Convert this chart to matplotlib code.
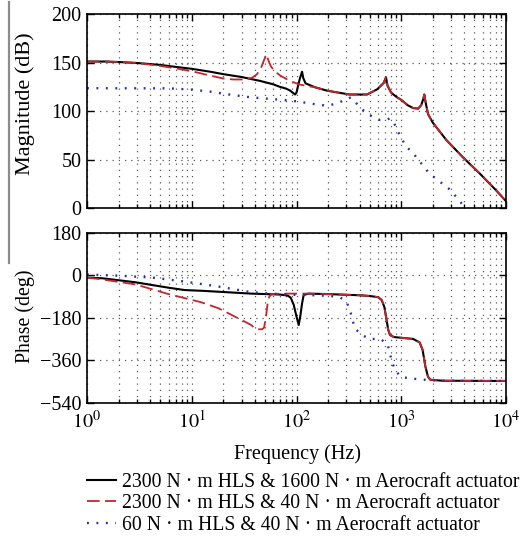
import matplotlib
matplotlib.use("Agg")
import matplotlib.pyplot as plt
from matplotlib.lines import Line2D
from matplotlib.ticker import LogLocator, NullFormatter, FixedLocator

plt.rcParams['font.family'] = ['Liberation Serif', 'DejaVu Serif']
plt.rcParams['mathtext.fontset'] = 'stix'

# ---------------- data ----------------
labels = ["2300 N · m HLS & 1600 N · m Aerocraft actuator",
          "2300 N · m HLS & 40 N · m Aerocraft actuator",
          "60 N · m HLS & 40 N · m Aerocraft actuator"]

# Magnitude, series 1 (black)
mag1_f = [1, 1.5, 2, 3, 5, 7, 10, 15, 20, 30, 45, 60, 69, 80, 87, 93, 97, 100, 104, 108, 113,
          116, 122, 150, 195, 320, 470, 590, 680, 715, 740, 800, 900, 1000, 1150, 1300, 1450,
          1550, 1620, 1660, 1700, 1800, 2000, 2700, 3900, 5600, 8000, 10000]
mag1_db = [151, 151, 150.5, 149.5, 147.5, 145.5, 143.5, 140.5, 138, 135, 131, 127.5, 125, 123, 121, 118.5, 117, 119, 127, 134, 140.5,
           134, 128.5, 124.5, 121, 117, 117, 122.4, 129, 134.7, 126, 119, 114.5, 111.5, 106, 103, 102.5,
           106, 112, 117, 110, 97, 88, 70, 52, 35.7, 18.5, 7]

# Magnitude, series 2 (red dashed)
mag2_f = [1, 1.5, 2, 3, 5, 7, 10, 15, 20, 25, 33, 38, 42, 46, 50, 51.5, 54, 57, 62, 70, 85, 105,
          130, 150, 195, 320, 470, 590, 680, 715, 740, 800, 900, 1000, 1150, 1300, 1450,
          1550, 1620, 1660, 1700, 1800, 2000, 2700, 3900, 5600, 8000, 10000]
mag2_db = [151, 151, 150.5, 149.5, 146.5, 144, 141, 136.5, 133.5, 132.5, 132.5, 134.5, 138, 145, 155, 158.5, 152, 146, 141, 136.5, 131.5, 127.5,
           125.5, 124.5, 121, 117, 117, 122.4, 129, 134.7, 126, 119, 114.5, 111.5, 106, 103, 102.5,
           106, 112, 117, 110, 97, 88, 70, 52, 35.7, 18.5, 7]

# Magnitude, series 3 (blue dotted)
mag3_f = [1, 3, 6, 10, 15, 21, 37, 77, 100, 150, 195, 240, 290, 330, 360, 400, 470, 550, 630,
          720, 780, 850, 930, 1100, 1300, 1850, 2950, 4000, 4400]
mag3_db = [123.5, 123.4, 123.4, 122, 120, 117.5, 114, 111.3, 110, 107, 105.5, 107.5, 111.5, 114, 110, 104, 97.6, 93, 90.7,
           91, 92.4, 88, 78.7, 64, 56.4, 35.7, 18.6, 1.3, -4]

# Phase, series 1 (black)
ph1_f = [1, 1.4, 2.9, 6, 8.6, 12.4, 18, 37, 70, 82, 88, 94, 100, 105, 109, 113, 117, 130, 200, 400,
         500, 600, 650, 690, 716, 750, 780, 850, 1000, 1300, 1500, 1600, 1700, 1800, 1900, 2500, 10000]
ph1_deg = [-10, -13, -30, -53, -63, -66, -70, -78, -82, -86, -95, -125, -175, -211, -170, -120, -84, -78, -80, -85,
           -88, -93, -105, -135, -176, -230, -253, -262, -265, -270, -285, -317, -387, -430, -443, -447, -448]

# Phase, series 2 (red dashed)
ph2_f = [1, 1.4, 2.9, 6, 12.4, 18, 26, 37, 40, 43, 47, 49, 51, 53, 55, 58, 70, 130, 200, 400,
         500, 600, 650, 690, 716, 750, 780, 850, 1000, 1300, 1500, 1600, 1700, 1800, 1900, 2500, 10000]
ph2_deg = [-10, -18, -39, -80, -115, -140, -176, -211, -225, -229, -229, -222, -180, -120, -90, -80, -78, -78, -80, -85,
           -88, -93, -105, -135, -176, -230, -253, -262, -265, -270, -285, -317, -387, -430, -443, -447, -448]

# Phase, series 3 (blue dotted)
ph3_f = [1, 2, 4.2, 8.6, 18, 37, 78, 150, 210, 260, 300, 325, 360, 420, 500, 630, 740, 810, 870,
         990, 1200, 1800, 2500, 10000]
ph3_deg = [3, -2, -10, -27, -48, -72, -82, -85, -88, -94, -112, -150, -225, -253, -270, -270, -291, -362, -401,
           -430, -437, -444, -447, -448]

mag_ticks = [0, 50, 100, 150, 200]
ph_ticks = [-540, -360, -180, 0, 180]
x_ticks = [1, 10, 100, 1000, 10000]
x_ticklabels = ['$10^0$', '$10^1$', '$10^2$', '$10^3$', '$10^4$']

# ---------------- figure ----------------
W, H = 520, 539
fig = plt.figure(figsize=(W/100, H/100), dpi=100)
ax1 = fig.add_axes([87/W, 1-208/H, 419/W, 194/H])
ax2 = fig.add_axes([87/W, 1-402.7/H, 419/W, 170/H])

styles = [dict(color='black', lw=1.5, ls='-'),
          dict(color='#c4262a', lw=1.3, dashes=(7, 3)),
          dict(color='#2b2fa8', lw=1.7, dashes=(0.8, 3.2))]

l1, = ax1.semilogx(mag1_f, mag1_db, **styles[0])
l2, = ax1.semilogx(mag2_f, mag2_db, **styles[1])
l3, = ax1.semilogx(mag3_f, mag3_db, **styles[2])
ax2.semilogx(ph1_f, ph1_deg, **styles[0])
ax2.semilogx(ph2_f, ph2_deg, **styles[1])
ax2.semilogx(ph3_f, ph3_deg, **styles[2])

for ax, yt, yl in [(ax1, mag_ticks, (0, 200)), (ax2, ph_ticks, (-540, 180))]:
    ax.set_xlim(1, 10000)
    ax.set_ylim(*yl)
    ax.set_yticks(yt)
    ax.xaxis.set_major_locator(FixedLocator(x_ticks))
    ax.xaxis.set_minor_locator(LogLocator(base=10, subs=range(2, 10), numticks=20))
    ax.xaxis.set_minor_formatter(NullFormatter())
    ax.tick_params(which='both', direction='in', top=True, right=True, labelsize=14.5,
                   width=1.0, color='black')
    ax.tick_params(which='major', length=5)
    ax.tick_params(which='minor', length=3)
    ax.grid(True, which='major', axis='both', color='0.35', lw=0.9, dashes=(1, 4))
    ax.grid(True, which='minor', axis='x', color='0.35', lw=0.9, dashes=(1, 4))
    for s in ax.spines.values():
        s.set_linewidth(1.2)
    ax.tick_params(axis='y', pad=4)

ax1.set_xticklabels([])
ax2.set_xticks(x_ticks)
ax2.set_xticklabels(x_ticklabels)
ax2.tick_params(axis='x', pad=6)

fig.text(25/W, 1-103.5/H, 'Magnitude (dB)', rotation=90, ha='center', va='center', fontsize=16)
fig.text(25/W, 1-316.5/H, 'Phase (deg)', rotation=90, ha='center', va='center', fontsize=14.3)
fig.text(297/W, 1-454/H, 'Frequency (Hz)', ha='center', va='center', fontsize=14.5)

fig.legend([l1, l2, l3], labels, loc='upper left', bbox_to_anchor=(87/W, 1-473/H),
           frameon=False, fontsize=14.2, handlelength=1.45, handletextpad=0.3,
           labelspacing=0.12, borderaxespad=0, borderpad=0)

fig.add_artist(Line2D([8.5/W, 8.5/W], [1-2/H, 1-263/H], color='0.55', lw=1.6,
                      transform=fig.transFigure))

fig.savefig('out.png', dpi=100)
